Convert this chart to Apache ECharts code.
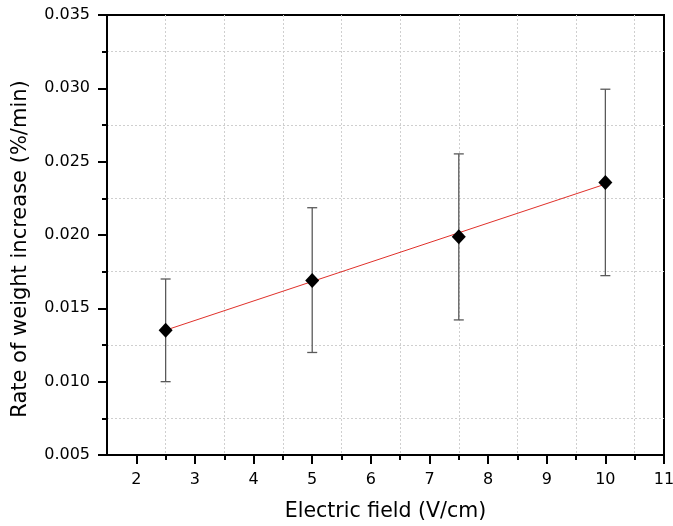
<!DOCTYPE html>
<html>
<head>
<meta charset="utf-8">
<script src="https://cdn.jsdelivr.net/npm/echarts@6/dist/echarts.min.js"></script>
<style>html,body{margin:0;padding:0;background:#fff;}#chart{width:673px;height:526px;}</style>
</head>
<body>
<div id="chart"></div>
<script>
var fieldValues = [2.5, 5, 7.5, 10];
var rateValues = [0.01351, 0.01689, 0.01988, 0.02358];
var errLow = [0.0100, 0.01199, 0.01421, 0.01723];
var errHigh = [0.0170, 0.02186, 0.02553, 0.02994];
var fitX = [2.5, 10];
var fitY = [0.01351, 0.02347];
var xMajorTicks = [2, 3, 4, 5, 6, 7, 8, 9, 10, 11];
var xMinorTicks = [2.5, 3.5, 4.5, 5.5, 6.5, 7.5, 8.5, 9.5, 10.5];

var FONT = 'DejaVu Sans, Liberation Sans, Arial, sans-serif';
var chart = echarts.init(document.getElementById('chart'));

var points = fieldValues.map(function (x, i) { return [x, rateValues[i]]; });
var errData = fieldValues.map(function (x, i) { return [x, errLow[i], errHigh[i]]; });
var fitData = fitX.map(function (x, i) { return [x, fitY[i]]; });

var gridLine = { show: true, lineStyle: { color: '#cfcfcf', type: [2, 2], width: 1 } };

chart.setOption({
  animation: false,
  backgroundColor: '#fff',
  grid: { left: 107, right: 9, top: 15, bottom: 71, containLabel: false, outerBoundsMode: 'none', show: true, borderColor: '#000', borderWidth: 2, backgroundColor: 'transparent' },
  xAxis: [{
    type: 'value', min: 1.5, max: 11,
    name: 'Electric field (V/cm)', nameLocation: 'middle', nameGap: 46,
    nameTextStyle: { fontFamily: FONT, fontSize: 20.5, color: '#000' },
    axisLine: { show: true, onZero: false, lineStyle: { color: '#000', width: 2 } },
    axisTick: { show: true, inside: false, length: 9, customValues: xMajorTicks, lineStyle: { color: '#000', width: 2 } },
    axisLabel: { show: true, customValues: xMajorTicks, margin: 17, fontFamily: FONT, fontSize: 16, color: '#000' },
    splitLine: { show: false }
  }, {
    type: 'value', min: 1.5, max: 11, position: 'bottom',
    axisLine: { show: false },
    axisTick: { show: true, inside: false, length: 5, customValues: xMinorTicks, lineStyle: { color: '#000', width: 2 } },
    axisLabel: { show: false },
    splitLine: gridLine
  }],
  yAxis: {
    type: 'value', min: 0.005, max: 0.035, interval: 0.005,
    name: 'Rate of weight increase (%/min)', nameLocation: 'middle', nameGap: 76,
    nameTextStyle: { fontFamily: FONT, fontSize: 21, color: '#000', padding: [0, 28, 0, 0] },
    axisLine: { show: true, onZero: false, lineStyle: { color: '#000', width: 2 } },
    axisTick: { show: true, inside: false, length: 9, lineStyle: { color: '#000', width: 2 } },
    minorTick: { show: true, splitNumber: 2, length: 5, lineStyle: { color: '#000', width: 2 } },
    axisLabel: { margin: 17, fontFamily: FONT, fontSize: 16, color: '#000', formatter: function (v) { return v.toFixed(3); } },
    splitLine: { show: false },
    minorSplitLine: gridLine
  },
  series: [{
    type: 'custom',
    xAxisIndex: 0,
    data: errData,
    z: 3,
    renderItem: function (params, api) {
      var x = api.value(0);
      var lo = api.coord([x, api.value(1)]);
      var hi = api.coord([x, api.value(2)]);
      var w = 5;
      var style = { stroke: '#5a5a5a', lineWidth: 1.3 };
      return {
        type: 'group',
        children: [
          { type: 'line', shape: { x1: lo[0], y1: lo[1], x2: hi[0], y2: hi[1] }, style: style },
          { type: 'line', shape: { x1: lo[0] - w, y1: lo[1], x2: lo[0] + w, y2: lo[1] }, style: style },
          { type: 'line', shape: { x1: hi[0] - w, y1: hi[1], x2: hi[0] + w, y2: hi[1] }, style: style }
        ]
      };
    }
  }, {
    type: 'line',
    xAxisIndex: 0,
    data: fitData,
    showSymbol: false,
    symbol: 'none',
    z: 4,
    lineStyle: { color: '#e0302a', width: 1 }
  }, {
    type: 'scatter',
    xAxisIndex: 0,
    data: points,
    symbol: 'diamond',
    symbolSize: [14, 15],
    z: 5,
    itemStyle: { color: '#000', opacity: 1 }
  }]
});
</script>
</body>
</html>
